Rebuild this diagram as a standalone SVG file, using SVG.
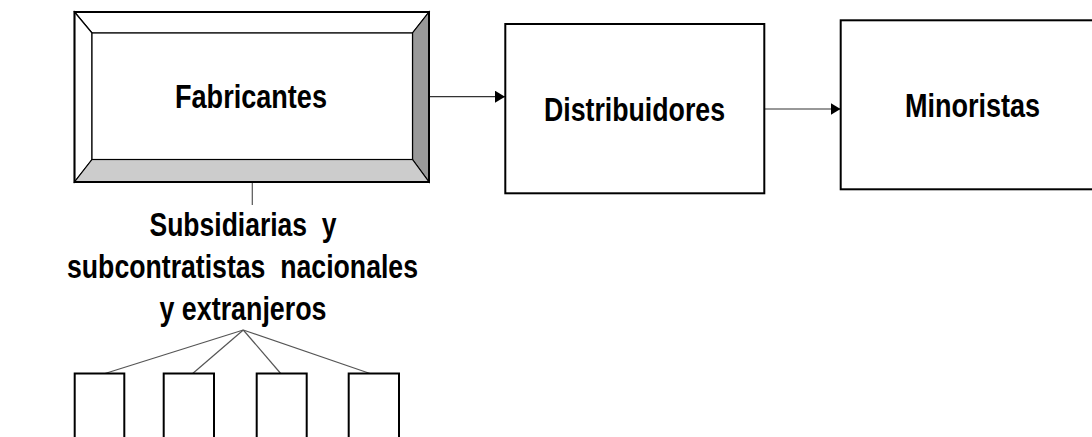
<svg xmlns="http://www.w3.org/2000/svg" width="1092" height="437" viewBox="0 0 1092 437">
<style>
.box{fill:#fff;stroke:#000;stroke-width:2}
.bev{stroke:#000;stroke-width:1.2;stroke-linejoin:miter}
.lbl{font-family:"Liberation Sans",Arial,sans-serif;font-weight:bold;font-size:33px;fill:#000;text-anchor:middle}
.pre{white-space:pre}
.conn{stroke:#333;stroke-width:1.2;fill:none}
.tree{stroke:#555;stroke-width:1.2;fill:none}
</style>
<defs>
<marker id="ah" viewBox="0 0 10 12" refX="10" refY="6" markerWidth="10" markerHeight="12" markerUnits="userSpaceOnUse" orient="auto">
<path d="M0,0 L10,6 L0,12 Z" fill="#000"/>
</marker>
</defs>
<rect width="1092" height="437" fill="#fff"/>
<g id="connectors">
<line class="conn" x1="429" y1="96.7" x2="505" y2="96.7" marker-end="url(#ah)"/>
<line class="conn" x1="764.5" y1="109" x2="840.5" y2="109" marker-end="url(#ah)"/>
<line class="tree" x1="252.3" y1="182" x2="252.3" y2="205"/>
<line class="tree" x1="243.3" y1="330" x2="105" y2="373.5"/>
<line class="tree" x1="243.3" y1="330" x2="192.7" y2="373.5"/>
<line class="tree" x1="243.3" y1="330" x2="280.7" y2="373.5"/>
<line class="tree" x1="243.3" y1="330" x2="370" y2="373.5"/>
</g>
<g id="fabricantes">
<polygon class="bev" fill="#fff" points="74.5,12 429,12 412.5,33 92,33"/>
<polygon class="bev" fill="#fff" points="74.5,12 92,33 92,159.5 74.5,182"/>
<polygon class="bev" fill="#999" points="429,12 429,182 412.5,159.5 412.5,33"/>
<polygon class="bev" fill="#ccc" points="74.5,182 429,182 412.5,159.5 92,159.5"/>
<rect x="92" y="33" width="320.5" height="126.5" fill="#fff" stroke="#000" stroke-width="1.2"/>
<rect x="74.5" y="12" width="354.5" height="170" fill="none" stroke="#000" stroke-width="2"/>
<text class="lbl" x="251" y="108" textLength="152" lengthAdjust="spacingAndGlyphs">Fabricantes</text>
</g>
<g id="distribuidores">
<rect class="box" x="505.3" y="24" width="259" height="169.3"/>
<text class="lbl" x="634.5" y="121" textLength="181" lengthAdjust="spacingAndGlyphs">Distribuidores</text>
</g>
<g id="minoristas">
<rect class="box" x="840.7" y="20.3" width="260" height="169"/>
<text class="lbl" x="972.5" y="117.3" textLength="135" lengthAdjust="spacingAndGlyphs">Minoristas</text>
</g>
<g id="subsidiarias">
<text class="lbl pre" xml:space="preserve" x="243" y="236" textLength="187" lengthAdjust="spacingAndGlyphs">Subsidiarias  y</text>
<text class="lbl pre" xml:space="preserve" x="242.5" y="278" textLength="351" lengthAdjust="spacingAndGlyphs">subcontratistas  nacionales</text>
<text class="lbl" x="243" y="320" textLength="167" lengthAdjust="spacingAndGlyphs">y extranjeros</text>
</g>
<g id="sub1"><rect class="box" x="74.7" y="373.5" width="49.6" height="80"/></g>
<g id="sub2"><rect class="box" x="163.7" y="373.5" width="50.3" height="80"/></g>
<g id="sub3"><rect class="box" x="256.7" y="373.5" width="50" height="80"/></g>
<g id="sub4"><rect class="box" x="348.7" y="373.5" width="50.3" height="80"/></g>
</svg>
